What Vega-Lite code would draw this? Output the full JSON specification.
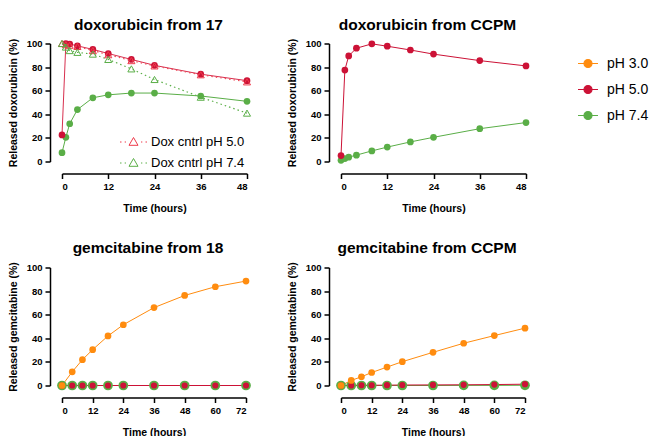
{
  "$schema": "https://vega.github.io/schema/vega-lite/v6.json",
  "padding": {"left": 8, "top": 17.5, "right": 110, "bottom": 0},
  "config": {
    "font": "Liberation Sans",
    "view": {"stroke": null},
    "axis": {"domainColor": "#000", "domainWidth": 1.5, "tickColor": "#000", "tickWidth": 1.5, "tickSize": 5, "labelFont": "Liberation Sans", "labelFontWeight": "bold", "labelFontSize": 9.5, "labelColor": "#000", "titleFont": "Liberation Sans", "titleFontWeight": "bold", "titleFontSize": 10.5, "titleColor": "#000", "grid": false, "offset": 12, "labelPadding": 3},
    "title": {"font": "Liberation Sans", "fontSize": 15.5, "fontWeight": "bold", "color": "#000", "dx": -6, "offset": 5},
    "legend": {"labelFont": "Liberation Sans", "labelColor": "#000"}
  },
  "datasets": {
    "dox17": [
      {"t": 0, "v": 7.5, "ph": "pH 7.4"}, {"t": 1, "v": 20.5, "ph": "pH 7.4"}, {"t": 2, "v": 32, "ph": "pH 7.4"}, {"t": 4, "v": 44, "ph": "pH 7.4"}, {"t": 8, "v": 54, "ph": "pH 7.4"}, {"t": 12, "v": 56.5, "ph": "pH 7.4"}, {"t": 18, "v": 58, "ph": "pH 7.4"}, {"t": 24, "v": 58, "ph": "pH 7.4"}, {"t": 36, "v": 55.5, "ph": "pH 7.4"}, {"t": 48, "v": 51, "ph": "pH 7.4"},
      {"t": 0, "v": 22.5, "ph": "pH 5.0"}, {"t": 1, "v": 100, "ph": "pH 5.0"}, {"t": 2, "v": 99.5, "ph": "pH 5.0"}, {"t": 4, "v": 98, "ph": "pH 5.0"}, {"t": 8, "v": 95, "ph": "pH 5.0"}, {"t": 12, "v": 91.5, "ph": "pH 5.0"}, {"t": 18, "v": 86.5, "ph": "pH 5.0"}, {"t": 24, "v": 81.5, "ph": "pH 5.0"}, {"t": 36, "v": 74, "ph": "pH 5.0"}, {"t": 48, "v": 68.5, "ph": "pH 5.0"}
    ],
    "ctrl": [
      {"t": 0, "v": 100, "series": "Dox cntrl pH 5.0"}, {"t": 1, "v": 99, "series": "Dox cntrl pH 5.0"}, {"t": 2, "v": 98.5, "series": "Dox cntrl pH 5.0"}, {"t": 4, "v": 97.5, "series": "Dox cntrl pH 5.0"}, {"t": 8, "v": 94, "series": "Dox cntrl pH 5.0"}, {"t": 12, "v": 90.5, "series": "Dox cntrl pH 5.0"}, {"t": 18, "v": 85.5, "series": "Dox cntrl pH 5.0"}, {"t": 24, "v": 81, "series": "Dox cntrl pH 5.0"}, {"t": 36, "v": 73.5, "series": "Dox cntrl pH 5.0"}, {"t": 48, "v": 67.5, "series": "Dox cntrl pH 5.0"},
      {"t": 0, "v": 100, "series": "Dox cntrl pH 7.4"}, {"t": 1, "v": 97, "series": "Dox cntrl pH 7.4"}, {"t": 2, "v": 94, "series": "Dox cntrl pH 7.4"}, {"t": 4, "v": 92.5, "series": "Dox cntrl pH 7.4"}, {"t": 8, "v": 91, "series": "Dox cntrl pH 7.4"}, {"t": 12, "v": 86.5, "series": "Dox cntrl pH 7.4"}, {"t": 18, "v": 78.5, "series": "Dox cntrl pH 7.4"}, {"t": 24, "v": 69.5, "series": "Dox cntrl pH 7.4"}, {"t": 36, "v": 54.5, "series": "Dox cntrl pH 7.4"}, {"t": 48, "v": 41, "series": "Dox cntrl pH 7.4"}
    ],
    "doxccpm": [
      {"t": 0, "v": 1, "ph": "pH 7.4"}, {"t": 1, "v": 2.5, "ph": "pH 7.4"}, {"t": 2, "v": 3.7, "ph": "pH 7.4"}, {"t": 4, "v": 5.4, "ph": "pH 7.4"}, {"t": 8, "v": 9, "ph": "pH 7.4"}, {"t": 12, "v": 12.2, "ph": "pH 7.4"}, {"t": 18, "v": 16.6, "ph": "pH 7.4"}, {"t": 24, "v": 20.5, "ph": "pH 7.4"}, {"t": 36, "v": 27.8, "ph": "pH 7.4"}, {"t": 48, "v": 33, "ph": "pH 7.4"},
      {"t": 0, "v": 5, "ph": "pH 5.0"}, {"t": 1, "v": 77.5, "ph": "pH 5.0"}, {"t": 2, "v": 89.5, "ph": "pH 5.0"}, {"t": 4, "v": 96, "ph": "pH 5.0"}, {"t": 8, "v": 99.7, "ph": "pH 5.0"}, {"t": 12, "v": 97.7, "ph": "pH 5.0"}, {"t": 18, "v": 94.5, "ph": "pH 5.0"}, {"t": 24, "v": 91, "ph": "pH 5.0"}, {"t": 36, "v": 85.5, "ph": "pH 5.0"}, {"t": 48, "v": 81, "ph": "pH 5.0"}
    ],
    "gem18": [
      {"t": 0, "v": 0, "ph": "pH 7.4"}, {"t": 4, "v": 0, "ph": "pH 7.4"}, {"t": 8, "v": 0, "ph": "pH 7.4"}, {"t": 12, "v": 0, "ph": "pH 7.4"}, {"t": 18, "v": 0, "ph": "pH 7.4"}, {"t": 24, "v": 0, "ph": "pH 7.4"}, {"t": 36, "v": 0, "ph": "pH 7.4"}, {"t": 48, "v": 0, "ph": "pH 7.4"}, {"t": 60, "v": 0, "ph": "pH 7.4"}, {"t": 72, "v": 0, "ph": "pH 7.4"},
      {"t": 0, "v": 0, "ph": "pH 5.0"}, {"t": 4, "v": 0, "ph": "pH 5.0"}, {"t": 8, "v": 0, "ph": "pH 5.0"}, {"t": 12, "v": 0, "ph": "pH 5.0"}, {"t": 18, "v": 0, "ph": "pH 5.0"}, {"t": 24, "v": 0, "ph": "pH 5.0"}, {"t": 36, "v": 0, "ph": "pH 5.0"}, {"t": 48, "v": 0, "ph": "pH 5.0"}, {"t": 60, "v": 0, "ph": "pH 5.0"}, {"t": 72, "v": 0, "ph": "pH 5.0"},
      {"t": 0, "v": 0, "ph": "pH 3.0"}, {"t": 4, "v": 11.6, "ph": "pH 3.0"}, {"t": 8, "v": 21.9, "ph": "pH 3.0"}, {"t": 12, "v": 30.4, "ph": "pH 3.0"}, {"t": 18, "v": 42, "ph": "pH 3.0"}, {"t": 24, "v": 51.5, "ph": "pH 3.0"}, {"t": 36, "v": 66, "ph": "pH 3.0"}, {"t": 48, "v": 76.3, "ph": "pH 3.0"}, {"t": 60, "v": 83.7, "ph": "pH 3.0"}, {"t": 72, "v": 88.5, "ph": "pH 3.0"}
    ],
    "gemccpm": [
      {"t": 0, "v": 0, "ph": "pH 7.4"}, {"t": 4, "v": 0, "ph": "pH 7.4"}, {"t": 8, "v": 0, "ph": "pH 7.4"}, {"t": 12, "v": 0, "ph": "pH 7.4"}, {"t": 18, "v": 0, "ph": "pH 7.4"}, {"t": 24, "v": 0, "ph": "pH 7.4"}, {"t": 36, "v": 0, "ph": "pH 7.4"}, {"t": 48, "v": 0.1, "ph": "pH 7.4"}, {"t": 60, "v": 0.1, "ph": "pH 7.4"}, {"t": 72, "v": 0.2, "ph": "pH 7.4"},
      {"t": 0, "v": 0, "ph": "pH 5.0"}, {"t": 4, "v": 0.1, "ph": "pH 5.0"}, {"t": 8, "v": 0.2, "ph": "pH 5.0"}, {"t": 12, "v": 0.2, "ph": "pH 5.0"}, {"t": 18, "v": 0.3, "ph": "pH 5.0"}, {"t": 24, "v": 0.4, "ph": "pH 5.0"}, {"t": 36, "v": 0.5, "ph": "pH 5.0"}, {"t": 48, "v": 0.6, "ph": "pH 5.0"}, {"t": 60, "v": 0.8, "ph": "pH 5.0"}, {"t": 72, "v": 1.1, "ph": "pH 5.0"},
      {"t": 0, "v": 0, "ph": "pH 3.0"}, {"t": 4, "v": 4.3, "ph": "pH 3.0"}, {"t": 8, "v": 7.4, "ph": "pH 3.0"}, {"t": 12, "v": 11, "ph": "pH 3.0"}, {"t": 18, "v": 15.6, "ph": "pH 3.0"}, {"t": 24, "v": 20.2, "ph": "pH 3.0"}, {"t": 36, "v": 28.1, "ph": "pH 3.0"}, {"t": 48, "v": 35.8, "ph": "pH 3.0"}, {"t": 60, "v": 42.3, "ph": "pH 3.0"}, {"t": 72, "v": 48.6, "ph": "pH 3.0"}
    ]
  },
  "resolve": {"scale": {"color": "independent"}, "legend": {"color": "independent"}},
  "columns": 2,
  "spacing": {"row": 27, "column": 34},
  "concat": [
    {
      "title": "doxorubicin from 17",
      "width": 185, "height": 118,
      "resolve": {"scale": {"color": "independent"}, "legend": {"color": "independent"}},
      "encoding": {
        "x": {"field": "t", "type": "quantitative", "scale": {"domain": [0, 48], "nice": false}, "axis": {"values": [0, 12, 24, 36, 48], "title": "Time (hours)", "titlePadding": 12}},
        "y": {"field": "v", "type": "quantitative", "scale": {"domain": [0, 100], "nice": false}, "axis": {"values": [0, 20, 40, 60, 80, 100], "title": "Released doxorubicin (%)", "titlePadding": 8}}
      },
      "layer": [
        {"data": {"name": "dox17"}, "mark": {"type": "line", "strokeWidth": 1}, "encoding": {"color": {"field": "ph", "type": "nominal", "scale": {"domain": ["pH 3.0", "pH 5.0", "pH 7.4"], "range": ["#FF8C0F", "#D8304F", "#5AAE47"]}, "legend": null}}},
        {"data": {"name": "dox17"}, "mark": {"type": "point", "filled": true, "size": 45, "opacity": 1}, "encoding": {"color": {"field": "ph", "type": "nominal", "scale": {"domain": ["pH 3.0", "pH 5.0", "pH 7.4"], "range": ["#FF8C0F", "#CC1236", "#5AAE47"]}, "legend": null}}},
        {"data": {"name": "ctrl"}, "transform": [{"filter": "datum.series === 'Dox cntrl pH 5.0'"}], "mark": {"type": "line", "strokeDash": [1.5, 3], "strokeWidth": 1.2, "color": "#EE4A58"}},
        {"data": {"name": "ctrl"}, "transform": [{"filter": "datum.series === 'Dox cntrl pH 7.4'"}], "mark": {"type": "line", "strokeDash": [1.5, 3], "strokeWidth": 1.2, "color": "#5AAE47"}},
        {"data": {"name": "ctrl"}, "mark": {"type": "point", "shape": "triangle-up", "filled": false, "size": 50, "strokeWidth": 1, "opacity": 1},
         "encoding": {"color": {"field": "series", "type": "nominal", "scale": {"domain": ["Dox cntrl pH 5.0", "Dox cntrl pH 7.4"], "range": ["#EE3A4A", "#5AAE47"]},
           "legend": {"title": null, "orient": "none", "legendX": 61, "legendY": 88, "symbolType": "M0,-0.45L0.45,0.33L-0.45,0.33Z M-1.35,0H-1.2 M-0.88,0H-0.75 M0.75,0H0.88 M1.2,0H1.35", "symbolSize": 400, "symbolStrokeWidth": 1, "labelFontSize": 13, "labelOffset": 7, "rowPadding": 3}}}}
      ]
    },
    {
      "title": "doxorubicin from CCPM",
      "width": 185, "height": 118,
      "data": {"name": "doxccpm"},
      "encoding": {
        "x": {"field": "t", "type": "quantitative", "scale": {"domain": [0, 48], "nice": false}, "axis": {"values": [0, 12, 24, 36, 48], "title": "Time (hours)", "titlePadding": 12}},
        "y": {"field": "v", "type": "quantitative", "scale": {"domain": [0, 100], "nice": false}, "axis": {"values": [0, 20, 40, 60, 80, 100], "title": "Released doxorubicin (%)", "titlePadding": 8}},
        "color": {"field": "ph", "type": "nominal", "scale": {"domain": ["pH 3.0", "pH 5.0", "pH 7.4"], "range": ["#FF8C0F", "#CC1236", "#5AAE47"]},
          "legend": {"title": null, "orient": "none", "legendX": 236, "legendY": 9, "symbolType": "M-1,0H1M-0.4,0A0.4,0.4,0,1,0,0.4,0A0.4,0.4,0,1,0,-0.4,0Z", "symbolSize": 400, "symbolStrokeWidth": 1.2, "labelFontSize": 14, "labelOffset": 8, "rowPadding": 8}}
      },
      "layer": [
        {"mark": {"type": "line", "strokeWidth": 1}},
        {"mark": {"type": "point", "filled": true, "size": 45, "opacity": 1}}
      ]
    },
    {
      "title": "gemcitabine from 18",
      "width": 184, "height": 118,
      "data": {"name": "gem18"},
      "encoding": {
        "x": {"field": "t", "type": "quantitative", "scale": {"domain": [0, 72], "nice": false}, "axis": {"values": [0, 12, 24, 36, 48, 60, 72], "title": "Time (hours)", "titlePadding": 12}},
        "y": {"field": "v", "type": "quantitative", "scale": {"domain": [0, 100], "nice": false}, "axis": {"values": [0, 20, 40, 60, 80, 100], "title": "Released gemcitabine (%)", "titlePadding": 8}},
        "color": {"field": "ph", "type": "nominal", "scale": {"domain": ["pH 3.0", "pH 5.0", "pH 7.4"], "range": ["#FF8C0F", "#CC1236", "#5AAE47"]}, "legend": null}
      },
      "layer": [
        {"mark": {"type": "line", "strokeWidth": 1}},
        {"transform": [{"filter": "datum.ph === 'pH 7.4'"}], "mark": {"type": "point", "filled": true, "size": 95, "opacity": 1}},
        {"transform": [{"filter": "datum.ph === 'pH 5.0'"}], "mark": {"type": "point", "filled": true, "size": 38, "opacity": 1}},
        {"transform": [{"filter": "datum.ph === 'pH 3.0'"}], "mark": {"type": "point", "filled": true, "size": 45, "opacity": 1}}
      ]
    },
    {
      "title": "gemcitabine from CCPM",
      "width": 184, "height": 118,
      "data": {"name": "gemccpm"},
      "encoding": {
        "x": {"field": "t", "type": "quantitative", "scale": {"domain": [0, 72], "nice": false}, "axis": {"values": [0, 12, 24, 36, 48, 60, 72], "title": "Time (hours)", "titlePadding": 12}},
        "y": {"field": "v", "type": "quantitative", "scale": {"domain": [0, 100], "nice": false}, "axis": {"values": [0, 20, 40, 60, 80, 100], "title": "Released gemcitabine (%)", "titlePadding": 8}},
        "color": {"field": "ph", "type": "nominal", "scale": {"domain": ["pH 3.0", "pH 5.0", "pH 7.4"], "range": ["#FF8C0F", "#CC1236", "#5AAE47"]}, "legend": null}
      },
      "layer": [
        {"mark": {"type": "line", "strokeWidth": 1}},
        {"transform": [{"filter": "datum.ph === 'pH 7.4'"}], "mark": {"type": "point", "filled": true, "size": 95, "opacity": 1}},
        {"transform": [{"filter": "datum.ph === 'pH 5.0'"}], "mark": {"type": "point", "filled": true, "size": 38, "opacity": 1}},
        {"transform": [{"filter": "datum.ph === 'pH 3.0'"}], "mark": {"type": "point", "filled": true, "size": 45, "opacity": 1}}
      ]
    }
  ]
}
